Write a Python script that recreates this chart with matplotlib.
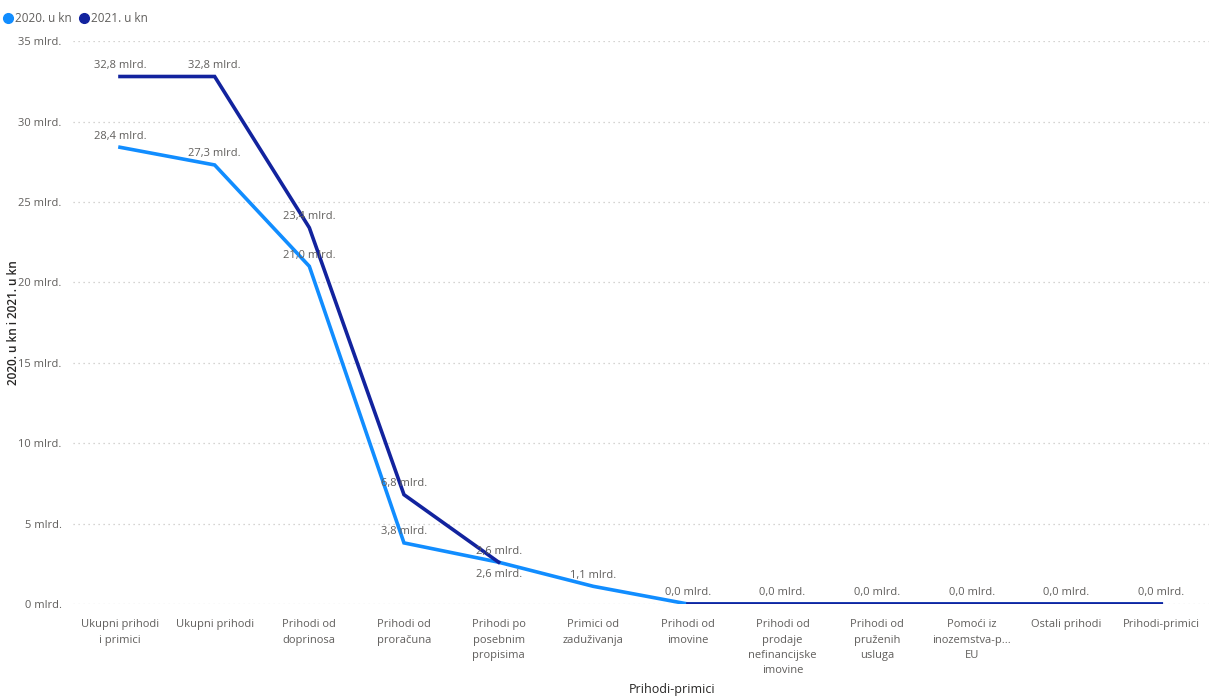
import numpy as np
import matplotlib.pyplot as plt
from matplotlib.lines import Line2D

plt.rcParams['font.family'] = ['Open Sans', 'DejaVu Sans']

# kategorije i vrijednosti (mlrd. kn)
categories = ["Ukupni prihodi\ni primici", "Ukupni prihodi", "Prihodi od\ndoprinosa",
              "Prihodi od\nproračuna", "Prihodi po\nposebnim\npropisima",
              "Primici od\nzaduživanja", "Prihodi od\nimovine",
              "Prihodi od\nprodaje\nnefinancijske\nimovine", "Prihodi od\npruženih\nusluga",
              "Pomoći iz\ninozemstva-p...\nEU", "Ostali prihodi", "Prihodi-primici"]
vals_2020 = [28.4, 27.3, 21.0, 3.8, 2.6, 1.1, 0.0, 0.0, 0.0, 0.0, 0.0, 0.0]
vals_2021 = [32.8, 32.8, 23.4, 6.8, 2.6, np.nan, 0.0, 0.0, 0.0, 0.0, 0.0, 0.0]
yticks = [0, 5, 10, 15, 20, 25, 30, 35]

c2020 = '#118DFF'
c2021 = '#12239E'
grey = '#605E5C'

fig = plt.figure(figsize=(12.11, 6.97), dpi=100)
ax = fig.add_axes([0.060, 0.1334, 0.938, 0.8076])

x = np.arange(len(categories))
ax.plot(x, vals_2020, color=c2020, lw=2.6, solid_joinstyle='miter')
ax.plot(x, vals_2021, color=c2021, lw=2.6, solid_joinstyle='miter')

# oznake podataka
def fmt(v):
    return f"{v:.1f}".replace('.', ',') + " mlrd."

for i, v in enumerate(vals_2020):
    if i >= 6:
        continue
    off = -5 if i == 4 else 4
    ax.annotate(fmt(v), (x[i], v), xytext=(0, off), textcoords='offset points',
                ha='center', va='bottom' if off > 0 else 'top', fontsize=8, color=grey)
for i, v in enumerate(vals_2021):
    if np.isnan(v):
        continue
    ax.annotate(fmt(v), (x[i], v), xytext=(0, 4), textcoords='offset points',
                ha='center', va='bottom', fontsize=8, color=grey)

ax.set_xlim(-0.5, len(categories) - 0.5)
ax.set_ylim(0, 35)
ax.set_yticks(yticks)
ax.set_yticklabels([f"{t} mlrd." for t in yticks])
ax.set_xticks(x)
ax.set_xticklabels(categories, fontsize=8, color=grey, linespacing=1.55, va='top')
ax.tick_params(axis='y', labelsize=8, labelcolor=grey, length=0, pad=8)
ax.tick_params(axis='x', length=0, pad=11)
ax.grid(axis='y', color='#C8C6C4', linestyle=(0, (1, 3)), lw=0.9)
ax.set_axisbelow(True)
for s in ax.spines.values():
    s.set_visible(False)

ax.set_ylabel("2020. u kn i 2021. u kn", fontsize=8.5, color='#252423',
              fontweight='semibold')
ax.yaxis.set_label_coords(-0.046, 0.5)
ax.set_xlabel("Prihodi-primici", fontsize=9, color='#252423')
ax.xaxis.set_label_coords(0.528, -0.141)

handles = [Line2D([], [], marker='o', ls='', color=c2020, markersize=7),
           Line2D([], [], marker='o', ls='', color=c2021, markersize=7)]
fig.legend(handles, ["2020. u kn", "2021. u kn"], loc='upper left',
           bbox_to_anchor=(-0.008, 0.998), ncol=2, frameon=False, fontsize=8.5,
           handletextpad=0.0, columnspacing=0.4, labelcolor=grey, handlelength=1.2)

fig.savefig('out.png', dpi=100)
